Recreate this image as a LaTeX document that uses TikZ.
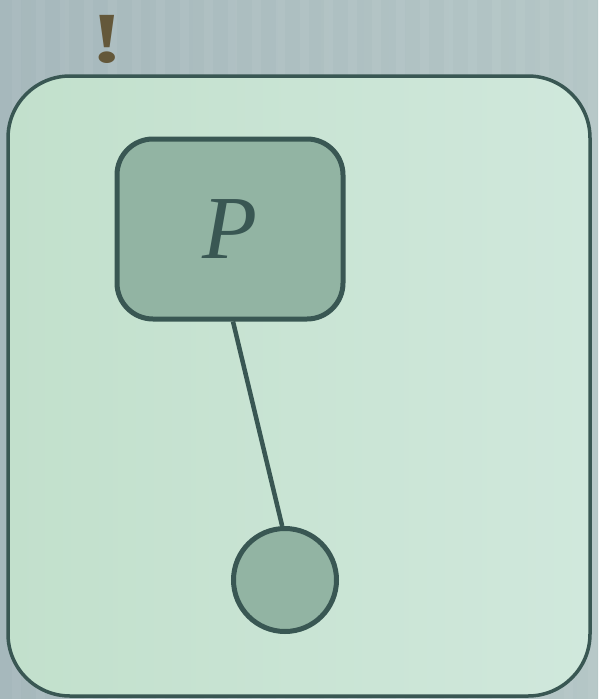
\documentclass[tikz,border=0pt]{standalone}
\usepackage{tikz}
\usetikzlibrary{positioning,calc}
\usepackage{fontspec}
\newfontfamily\letraP{Liberation Serif}
\definecolor{fondo}{RGB}{166,184,188}
\definecolor{fondoder}{RGB}{180,198,198}
\definecolor{verdeclaro}{RGB}{194,224,204}
\definecolor{verdeclaroder}{RGB}{208,232,220}
\definecolor{verdemedio}{RGB}{146,180,163}
\definecolor{trazo}{RGB}{57,87,83}
\definecolor{exclam}{RGB}{100,88,58}

\begin{document}
\begin{tikzpicture}[x=1pt, y=-1pt,
    caja/.style={draw=trazo, line width=5pt, fill=verdemedio, rounded corners=36pt,
      minimum width=226pt, minimum height=180pt, inner sep=0pt},
    bola/.style={draw=trazo, line width=5pt, fill=verdemedio, circle,
      minimum size=103pt, inner sep=0pt},
    enlace/.style={draw=trazo, line width=4.5pt}]
        % fondo
        \shade[left color=fondo, right color=fondoder] (0,0) rectangle (598,699);
        \useasboundingbox (0,0) rectangle (598,699);
        % rayas verticales del fondo
        \foreach \x in {12,36,...,598} { \fill[white, opacity=0.05] (\x,0) rectangle ++(9,699); }
        % caja exterior
        \shade[left color=verdeclaro, right color=verdeclaroder, rounded corners=62pt]
          (8,76) rectangle (590,696);
        \draw[trazo, line width=3.5pt, rounded corners=62pt] (8,76) rectangle (590,696);
        % nodos
        \node[caja] (P) at (230,229) {\letraP\itshape\fontsize{90}{90}\selectfont\color{trazo}P};
        \node[bola] (hoja) at (285,580) {};
        \draw[enlace] ($(P.south)+(3,0)$) -- (hoja.93);
        \node[text=exclam, anchor=base, inner sep=0pt, text height=50pt, text depth=0pt, xscale=1.4,
          font=\letraP\bfseries\fontsize{72}{72}\selectfont] (aviso) at (107,62) {!};
      \end{tikzpicture}
\end{document}
